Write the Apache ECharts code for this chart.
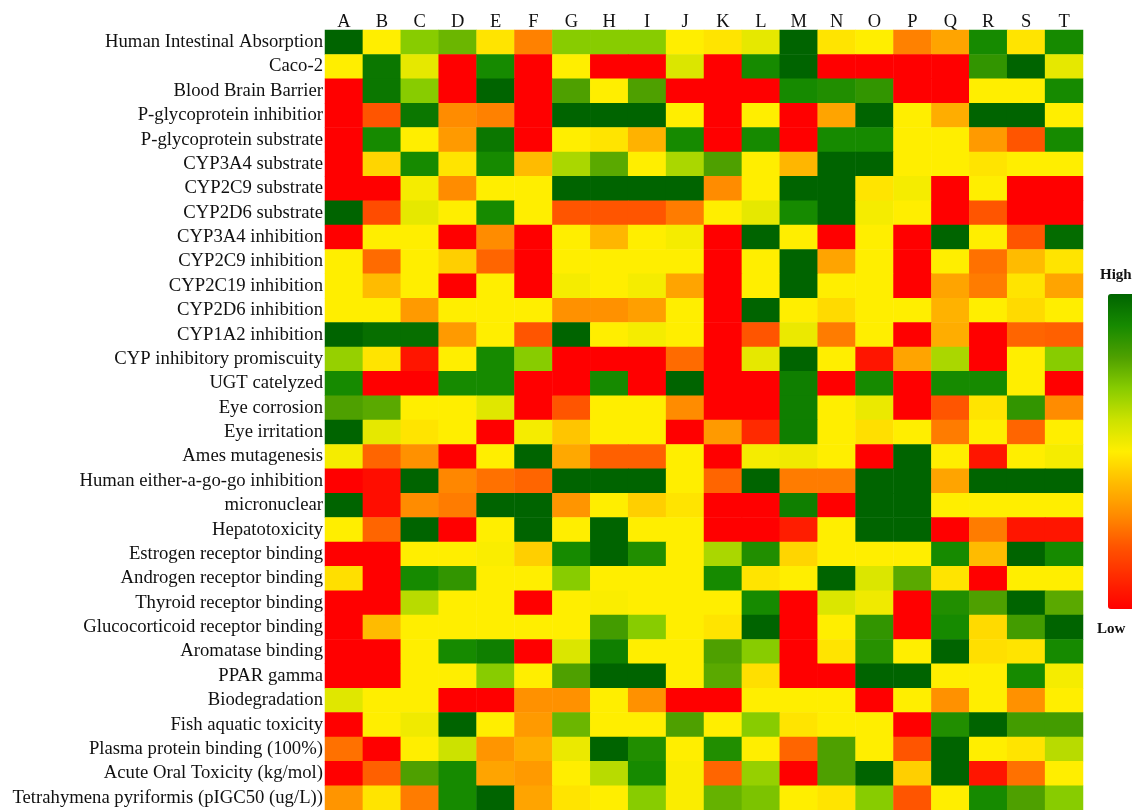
<!DOCTYPE html>
<html>
<head>
<meta charset="utf-8">
<script src="https://cdn.jsdelivr.net/npm/echarts@6/dist/echarts.min.js"></script>
<style>
  html, body { margin: 0; padding: 0; background: #ffffff; }
  #chart { width: 1132px; height: 810px; }
</style>
</head>
<body>
<div id="chart"></div>
<script>
// Compounds (columns)
var compounds = ['A','B','C','D','E','F','G','H','I','J','K','L','M','N','O','P','Q','R','S','T'];

// ADMET properties (rows, top to bottom)
var properties = [
  'Human Intestinal Absorption',
  'Caco-2',
  'Blood Brain Barrier',
  'P-glycoprotein inhibitior',
  'P-glycoprotein substrate',
  'CYP3A4 substrate',
  'CYP2C9 substrate',
  'CYP2D6 substrate',
  'CYP3A4 inhibition',
  'CYP2C9 inhibition',
  'CYP2C19 inhibition',
  'CYP2D6 inhibition',
  'CYP1A2 inhibition',
  'CYP inhibitory promiscuity',
  'UGT catelyzed',
  'Eye corrosion',
  'Eye irritation',
  'Ames mutagenesis',
  'Human either-a-go-go inhibition',
  'micronuclear',
  'Hepatotoxicity',
  'Estrogen receptor binding',
  'Androgen receptor binding',
  'Thyroid receptor binding',
  'Glucocorticoid receptor binding',
  'Aromatase binding',
  'PPAR gamma',
  'Biodegradation',
  'Fish aquatic toxicity',
  'Plasma protein binding (100%)',
  'Acute Oral Toxicity (kg/mol)',
  'Tetrahymena pyriformis (pIGC50 (ug/L))'
];

// Relative score per property (row) and compound (A..T), 0 = low, 10 = high
var scores = [
  [10,5,7,7.5,4.8,2.8,7,7,7,5, 4.8,5.5,10,4.8,5,2.8,3.5,9,4.8,9],
  [5,9.5,5.5,0,9,0,5,0,0,5.7, 0,9,10,0,0,0,0,8.5,10,5.5],
  [0,9.5,7,0,10,0,8,5,8,0, 0,0,9,8.8,8.5,0,0,5,5,9],
  [0,2,9.5,3,2.8,0,10,10,10,5, 0,5,0,3.5,10,5,3.7,10,10,5],
  [0,9,5,3.3,9.5,0,5,4.8,3.8,9, 0,9,0,9,9,5,5,3.3,2,9],
  [0,4.5,9,4.8,9,4,6.5,7.8,5,6.5, 8,5,3.9,10,10,5,5,4.8,5,5],
  [0,0,5.2,3,5,5,10,10,10,10, 3,5,10,10,4.8,5.2,0,5,0,0],
  [10,1.8,5.5,5,9,5,2,2,2,2.7, 5,5.5,9,10,5.2,5,0,2,0,0],
  [0,5,5,0,3,0,5,3.9,5,5.2, 0,10,5,0,5,0,10,5,2,9.8],
  [5,2.4,5,4.4,2.3,0,5,5,5,5, 0,5,10,3.5,5,0,5,2.5,4,4.8],
  [5,4,5,0,5,0,5.2,5,5.2,3.5, 0,5,10,5,5,0,3.5,2.7,4.8,3.5],
  [5,5,3.3,5,5,5,3.1,3.1,3.4,5, 0,10,5,4.6,5,5,3.8,5,4.6,5],
  [10,9.7,9.7,3.3,5,2,10,5,5.2,5, 0,2,5.4,2.7,5,0,3.7,0,2.3,2.2],
  [6.8,4.8,0.5,5,9,7,0,0,0,2.4, 0,5.5,10,5,0.5,3.5,6.5,0,5,7],
  [9,0,0,9,9,0,0,9,0,10, 0,0,9.3,0,9,0,9,9,5,0],
  [8,7.8,5,5,5.6,0,2,5,5,3, 0,0,9.3,5,5.4,0,2,4.8,8.5,3],
  [10,5.5,4.8,5,0,5.2,4.2,5,5,0, 3.3,1,9.3,5,4.7,5,2.7,5,2.3,5],
  [5.2,2.3,3.1,0,5,10,3.6,2.2,2.2,5, 0,5.2,5.3,5,0,10,5,0.5,5,5.2],
  [0,0.3,10,2.9,2.5,2.3,10,10,10,5, 2.3,10,2.7,2.7,10,10,3.5,10,10,10],
  [10,0.3,3,2.7,10,10,3.2,5,4.4,4.8, 0,0,9.3,0,10,10,5,5,5,5],
  [5,2.3,10,0,5,10,5,10,5,5, 0,0,0.7,5,10,10,0,2.7,0.5,0.5],
  [0,0,5,5,5.1,4.4,9,10,8.8,5, 6.5,8.8,4.5,5,5,5,9,4,10,9],
  [4.7,0,9,8.5,5,5,7,5,5,5, 9,4.8,5,10,5.7,7.8,4.8,0,5,5],
  [0,0,6.3,5,5,0,5,5.1,5,5, 5,9,0,5.7,5.3,0,8.8,8,10,7.8],
  [0,4,5,5,5,5,5,8.2,7,5, 4.8,10,0,5,8.5,0,9,4.6,8.2,10],
  [0,0,5,9,9.3,0,5.7,9.3,5,5, 8,7,0,4.8,8.7,5,10,4.7,4.8,9],
  [0,0,5,5,7,5,8,10,10,5, 7.8,4.7,0,0,10,10,5,5,9,5.2],
  [5.6,5,5,0,0,3.1,3.1,5,3.1,0, 0,5,5,5,0,5,3.1,5,3.1,5],
  [0,5,5.3,10,5,3.3,7.5,5,5,8, 5,7,4.8,5,5,0,8.8,10,8.2,8.2],
  [2.5,0,5,6,3.2,3.7,5.4,10,8.8,5, 8.8,5,2.3,8,5,2,10,5,4.8,6.3],
  [0,2.2,8,9,3.5,3.3,5,6.3,9,5.1, 2.3,6.8,0,8,10,4.4,10,0.5,2.5,5],
  [3.2,4.8,2.7,9,10,3.5,4.8,5,7,5.1, 7.6,7.2,5,4.8,7,2,5,9,8,7]
];

// Legend end labels
var legendLabels = ['High', 'Low'];

var heatData = [];
for (var r = 0; r < properties.length; r++) {
  for (var c = 0; c < compounds.length; c++) {
    heatData.push([c, r, scores[r][c]]);
  }
}

var chart = echarts.init(document.getElementById('chart'), null, { renderer: 'canvas' });
var serif = '"Liberation Serif", "DejaVu Serif", serif';

chart.setOption({
  backgroundColor: '#ffffff',
  animation: false,
  grid: { left: 325, top: 30, width: 758, height: 780, containLabel: false },
  xAxis: {
    type: 'category',
    position: 'top',
    data: compounds,
    axisLine: { show: false },
    axisTick: { show: false },
    splitLine: { show: false },
    axisLabel: { interval: 0, margin: -2, fontFamily: serif, fontSize: 18.5, color: '#111111' }
  },
  yAxis: {
    type: 'category',
    inverse: true,
    data: properties,
    axisLine: { show: false },
    axisTick: { show: false },
    splitLine: { show: false },
    axisLabel: { interval: 0, hideOverlap: false, margin: 2, fontFamily: serif, fontSize: 18.7, color: '#111111' }
  },
  visualMap: {
    type: 'continuous',
    min: 0,
    max: 10,
    orient: 'vertical',
    left: 1093,
    top: 279,
    itemWidth: 26,
    itemHeight: 315,
    calculable: false,
    hoverLink: false,
    text: null,
    inRange: {
      color: ['#ff0000', '#ff2a00', '#ff5500', '#ff8c00', '#ffbb00', '#ffee00',
              '#cce200', '#88cc00', '#4ea000', '#168a00', '#006400']
    }
  },
  graphic: [
    { type: 'text', left: 1100, top: 268, style: { text: legendLabels[0], font: 'bold 15px ' + serif, fill: '#111111' } },
    { type: 'text', left: 1097, top: 622, style: { text: legendLabels[1], font: 'bold 15px ' + serif, fill: '#111111' } }
  ],
  series: [{
    type: 'heatmap',
    data: heatData,
    itemStyle: { borderWidth: 0 },
    emphasis: { disabled: true }
  }]
});
</script>
</body>
</html>
